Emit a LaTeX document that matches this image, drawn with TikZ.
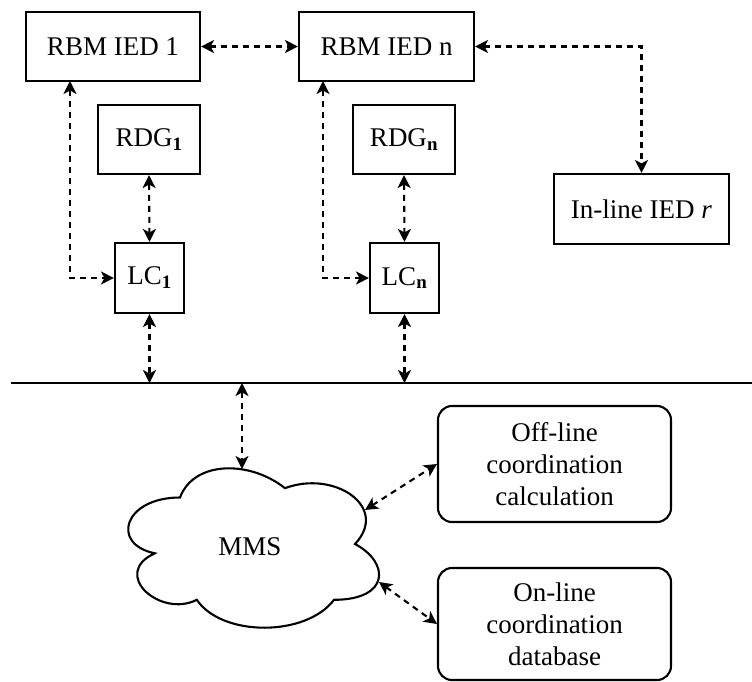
\documentclass[tikz,border=0pt]{standalone}
\usepackage{fontspec}
\setmainfont{Liberation Serif}
\usetikzlibrary{arrows.meta}
\begin{document}
\begin{tikzpicture}[x=1pt,y=-1pt,
  box/.style={draw,line width=2.1pt,inner sep=0pt,align=center,font=\fontsize{27}{32}\selectfont},
  rbox/.style={box,rounded corners=14pt},
  arr/.style={line width=2.1pt,dash pattern=on 6pt off 5pt,
    {Stealth[length=13pt,width=13pt,inset=3.5pt]}-{Stealth[length=13pt,width=13pt,inset=3.5pt]}},
  lbl/.style={font=\fontsize{27}{32}\selectfont}]
\useasboundingbox (0,0) rectangle (752,682);
% boxes
\node[box,minimum width=174pt,minimum height=69pt] (rbm1) at (113,46.5) {RBM IED 1};
\node[box,minimum width=175pt,minimum height=69pt] (rbmn) at (386.5,46.5) {RBM IED n};
\node[box,minimum width=102pt,minimum height=69pt] (rdg1) at (149,139.5) {RDG\textsubscript{\textbf{1}}};
\node[box,minimum width=102pt,minimum height=69pt] (rdgn) at (404,139.5) {RDG\textsubscript{\textbf{n}}};
\node[box,minimum width=69pt,minimum height=70pt] (lc1) at (149.5,278) {LC\textsubscript{\textbf{1}}};
\node[box,minimum width=69pt,minimum height=70pt] (lcn) at (404.5,278) {LC\textsubscript{\textbf{n}}};
\node[box,minimum width=175pt,minimum height=70pt] (inl) at (641.5,209) {In-line IED \textit{r}};
\node[rbox,minimum width=233pt,minimum height=116pt] (off) at (554.5,464) {Off-line\\coordination\\calculation};
\node[rbox,minimum width=233pt,minimum height=112pt] (on) at (554.5,624) {On-line\\coordination\\database};
% bus
\coordinate (busL) at (11,383);
\coordinate (busR) at (752,383);
\draw[line width=2.1pt] (busL) -- (busR);
% cloud
\draw[line width=2.1pt,fill=white] (180,497.5)
  .. controls (124,497.5) and (110,544) .. (154.8,553.3)
  .. controls (110,573.8) and (160.4,618.4) .. (196.8,599.8)
  .. controls (222,637) and (306,637) .. (334,599.8)
  .. controls (390,599.8) and (390,562.6) .. (355,544)
  .. controls (390,506.8) and (334,469.6) .. (285,488.2)
  .. controls (250,460.3) and (194,460.3) .. (180,497.5) -- cycle;
\node[lbl] (mms) at (250,547) {MMS};
\coordinate (cloudN) at (242,469);
\coordinate (cloudNE) at (365,510);
\coordinate (cloudSE) at (379,582);
% connectors
\draw[arr] (rbm1.east) -- (rbmn.west);
\draw[arr] (rbmn.east) -- (rbmn.east -| inl.north) -- (inl.north);
\coordinate (a1) at (70,81);
\coordinate (an) at (323,81);
\draw[arr] (a1) -- (a1 |- lc1.west) -- (lc1.west);
\draw[arr] (an) -- (an |- lcn.west) -- (lcn.west);
\draw[arr] (rdg1.south) -- (lc1.north);
\draw[arr] (rdgn.south) -- (lcn.north);
\draw[arr] (lc1.south) -- (lc1.south |- busL);
\draw[arr] (lcn.south) -- (lcn.south |- busL);
\draw[arr] (cloudN |- busL) -- (cloudN);
\draw[arr] (cloudNE) -- (off.west);
\draw[arr] (cloudSE) -- (on.west);
\end{tikzpicture}
\end{document}
